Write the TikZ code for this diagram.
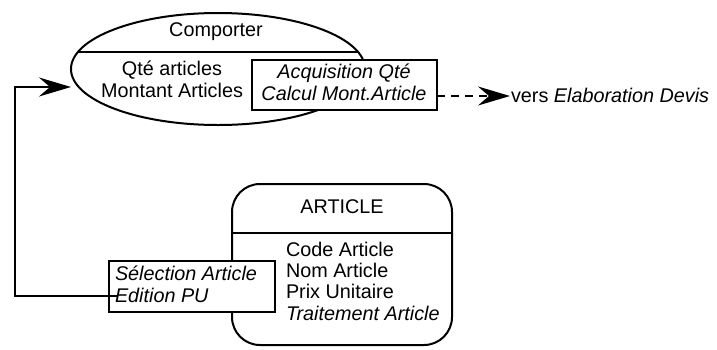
\documentclass[tikz,border=0pt]{standalone}
\usepackage{fontspec}
\setmainfont{Liberation Sans}
\usetikzlibrary{shapes.geometric,arrows.meta}
\begin{document}
\begin{tikzpicture}[x=1pt,y=-1pt,line width=2pt,
  txt/.style={inner sep=0pt,anchor=base,font=\fontsize{19.8}{21.2}\selectfont},
  ittxt/.style={txt,font=\fontsize{19.8}{21.2}\selectfont\itshape},
  opbox/.style={draw,fill=white,inner sep=0pt},
  bigarrow/.style={-{Stealth[length=32pt,width=19pt,inset=11pt]}}]
\useasboundingbox (0,0) rectangle (717,349);
% ellipse relation
\node[ellipse,draw,inner sep=0pt,minimum width=294pt,minimum height=112pt] (comp) at (218,69) {};
\draw (78,52) -- (358,52);
\node[txt] (comptitle) at (216,36) {Comporter};
\node[txt,align=center] (compattr) at (172,97) {Qté articles\\Montant Articles};
% acquisition box
\node[opbox,minimum width=185pt,minimum height=50pt] (acq) at (344,85) {};
\node[ittxt,align=center] (acqtxt) at (344,100) {Acquisition Qté\\Calcul Mont.Article};
% dashed arrow
\coordinate (dstart) at (437,96);
\coordinate (dtip) at (510,96);
\draw[bigarrow,dash pattern=on 8pt off 6pt] (dstart) -- (dtip);
\node[txt,anchor=base west] (vers) at (510,102) {vers \textit{Elaboration Devis}};
% article entity
\node[draw,rounded corners=28pt,minimum width=220pt,minimum height=161pt,inner sep=0pt] (art) at (342,264.5) {};
\draw (232,233) -- (452,233);
\node[txt] (arttitle) at (342,213) {ARTICLE};
\node[txt,anchor=base west,align=left] (artattr) at (285,320) {Code Article\\Nom Article\\Prix Unitaire\\\textit{Traitement Article}};
% selection box
\node[opbox,minimum width=166pt,minimum height=51pt] (sel) at (192,286) {};
\node[ittxt,anchor=base west,align=left] (seltxt) at (114,302) {Sélection Article\\Edition PU};
% connector
\coordinate (lstart) at (117,296);
\coordinate (ltip) at (71,87);
\draw[bigarrow] (lstart) -- (15,296) -- (15,87) -- (ltip);
\end{tikzpicture}
\end{document}
